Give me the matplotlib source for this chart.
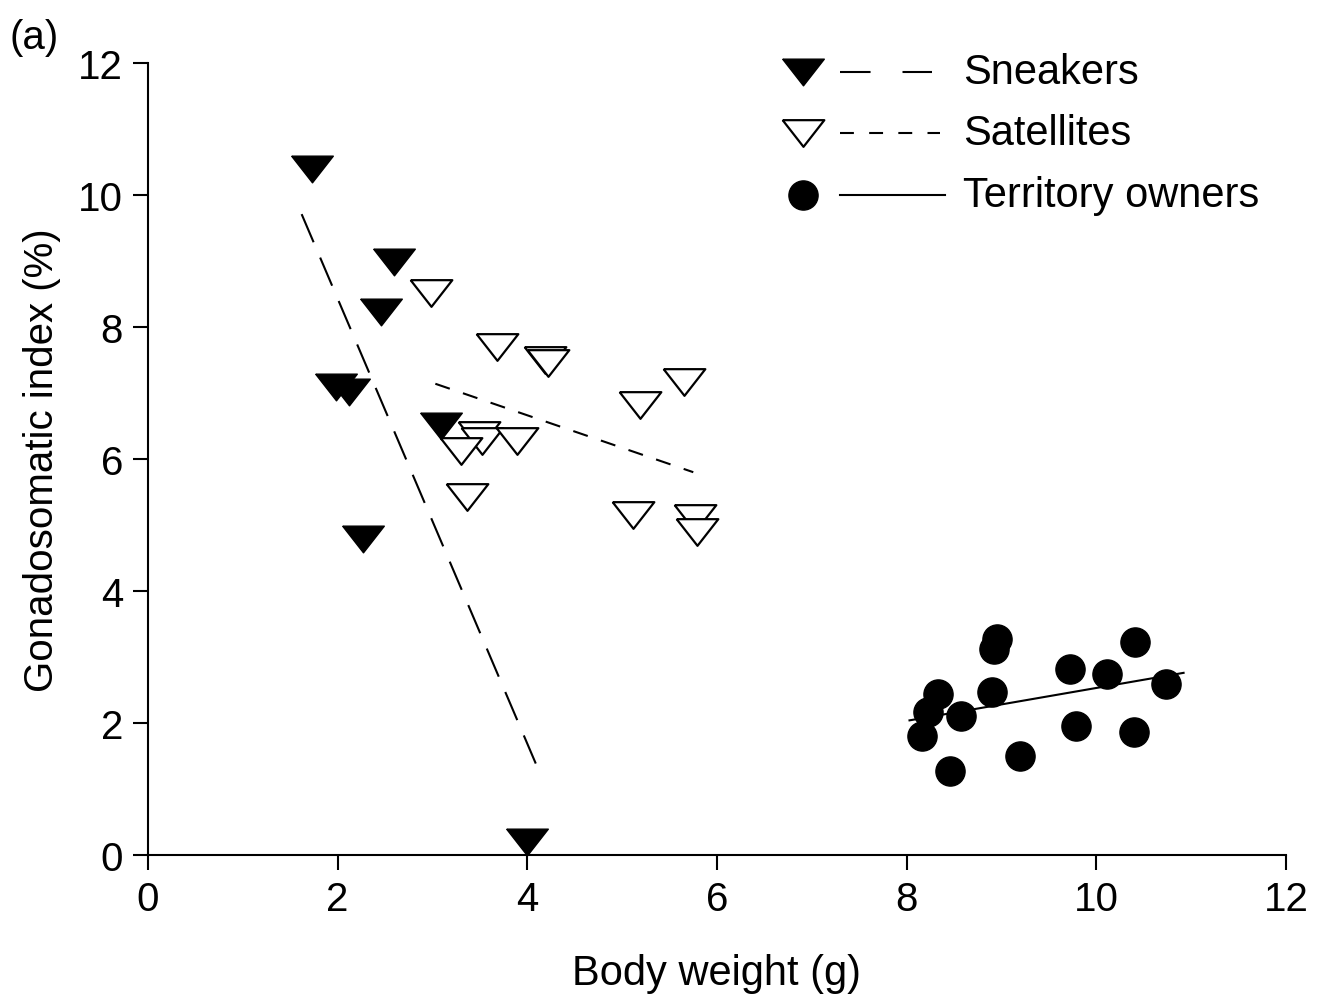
import matplotlib
matplotlib.use("Agg")
import matplotlib.pyplot as plt
import numpy as np

plt.rcParams['font.family'] = ['Liberation Sans', 'DejaVu Sans']
plt.rcParams['lines.scale_dashes'] = False

# ---- data ----
sneak_x = [1.73, 2.59, 2.46, 1.98, 2.12, 3.09, 2.27, 4.00]
sneak_y = [10.40, 8.98, 8.22, 7.09, 7.01, 6.50, 4.79, 0.20]

sat_x = [2.98, 3.68, 4.19, 4.22, 5.65, 5.19, 3.49, 3.52, 3.30, 3.89, 3.36, 5.11, 5.77, 5.79]
sat_y = [8.52, 7.70, 7.50, 7.45, 7.17, 6.82, 6.36, 6.28, 6.12, 6.27, 5.43, 5.15, 5.10, 4.90]

terr_x = [8.95, 8.92, 8.33, 8.23, 8.16, 8.57, 8.90, 8.46, 9.20, 9.72, 9.79, 10.11, 10.41, 10.40, 10.73]
terr_y = [3.27, 3.12, 2.44, 2.17, 1.80, 2.11, 2.47, 1.27, 1.50, 2.82, 1.95, 2.74, 3.23, 1.86, 2.59]

# regression line endpoints
sneak_fit_x = [1.62, 4.15]
sneak_fit_y = [9.71, 1.18]
sat_fit_x = [3.03, 5.75]
sat_fit_y = [7.14, 5.80]
terr_fit_x = [8.03, 10.92]
terr_fit_y = [2.04, 2.76]

xticks = [0, 2, 4, 6, 8, 10, 12]
yticks = [0, 2, 4, 6, 8, 10, 12]
labels = ["Sneakers", "Satellites", "Territory owners"]

FS = 29
FS2 = 30
tri = [(-1, 0.64), (1, 0.64), (0, -0.64), (-1, 0.64)]

fig = plt.figure(figsize=(13.17, 10.03), dpi=100)
ax = fig.add_axes([148/1317, 1 - 856/1003, (1286-148)/1317, (856-64)/1003])
ax.set_xlim(0, 12)
ax.set_ylim(0, 12)

# lines
ax.plot(sneak_fit_x, sneak_fit_y, color='black', lw=1.5, dashes=(22, 12))
ax.plot(sat_fit_x, sat_fit_y, color='black', lw=1.5, dashes=(11, 10))
ax.plot(terr_fit_x, terr_fit_y, color='black', lw=1.5)

# points
ax.plot(sat_x, sat_y, ls='none', marker=tri, ms=30, mfc='white', mec='black', mew=1.6, zorder=3, clip_on=False)
ax.plot(sneak_x, sneak_y, ls='none', marker=tri, ms=30, mfc='black', mec='black', mew=1.0, zorder=4, clip_on=False)
ax.plot(terr_x, terr_y, ls='none', marker='o', ms=21, mfc='black', mec='black', zorder=4, clip_on=False)

# axes styling
for s in ['top', 'right']:
    ax.spines[s].set_visible(False)
for s in ['left', 'bottom']:
    ax.spines[s].set_linewidth(1.5)
ax.set_xticks(xticks)
ax.set_yticks(yticks)
ax.tick_params(axis='both', direction='out', length=11, width=1.5, labelsize=FS, pad=7)
ax.set_xlabel("Body weight (g)", fontsize=FS2, labelpad=25)
ax.set_ylabel("Gonadosomatic index (%)", fontsize=FS, labelpad=12)

# legend (manual)
def px2ax(px, py):
    return ((px - 148) / (1286 - 148), (856 - py) / (856 - 64))

rows = [73, 134, 196]
mx, l0, l1, tx = 803, 840, 945, 963
kw = dict(transform=ax.transAxes, clip_on=False)
# Sneakers
x0, y0 = px2ax(mx, rows[0])
ax.plot([x0], [y0], marker=tri, ms=30, mfc='black', mec='black', mew=1.0, ls='none', **kw)
a, _ = px2ax(l0, rows[0]); b, _ = px2ax(932, rows[0])
ax.plot([a, b], [y0, y0], color='black', lw=1.5, dashes=(22, 23), **kw)
ax.text(px2ax(tx, 0)[0], y0, labels[0], fontsize=FS2, va='center', ha='left', transform=ax.transAxes)
# Satellites
x0, y0 = px2ax(mx, rows[1])
ax.plot([x0], [y0], marker=tri, ms=30, mfc='white', mec='black', mew=1.6, ls='none', **kw)
a, _ = px2ax(l0, rows[1]); b, _ = px2ax(940, rows[1])
ax.plot([a, b], [y0, y0], color='black', lw=1.5, dashes=(10, 11), **kw)
ax.text(px2ax(tx, 0)[0], y0, labels[1], fontsize=FS2, va='center', ha='left', transform=ax.transAxes)
# Territory owners
x0, y0 = px2ax(mx, rows[2])
ax.plot([x0], [y0], marker='o', ms=21, mfc='black', mec='black', ls='none', **kw)
a, _ = px2ax(l0, rows[2]); b, _ = px2ax(l1, rows[2])
ax.plot([a, b], [y0, y0], color='black', lw=1.5, **kw)
ax.text(px2ax(tx, 0)[0], y0, labels[2], fontsize=FS2, va='center', ha='left', transform=ax.transAxes)

fig.text(10/1317, 1 - 38/1003, "(a)", fontsize=FS, va='center', ha='left')

fig.savefig("out.png", dpi=100)
